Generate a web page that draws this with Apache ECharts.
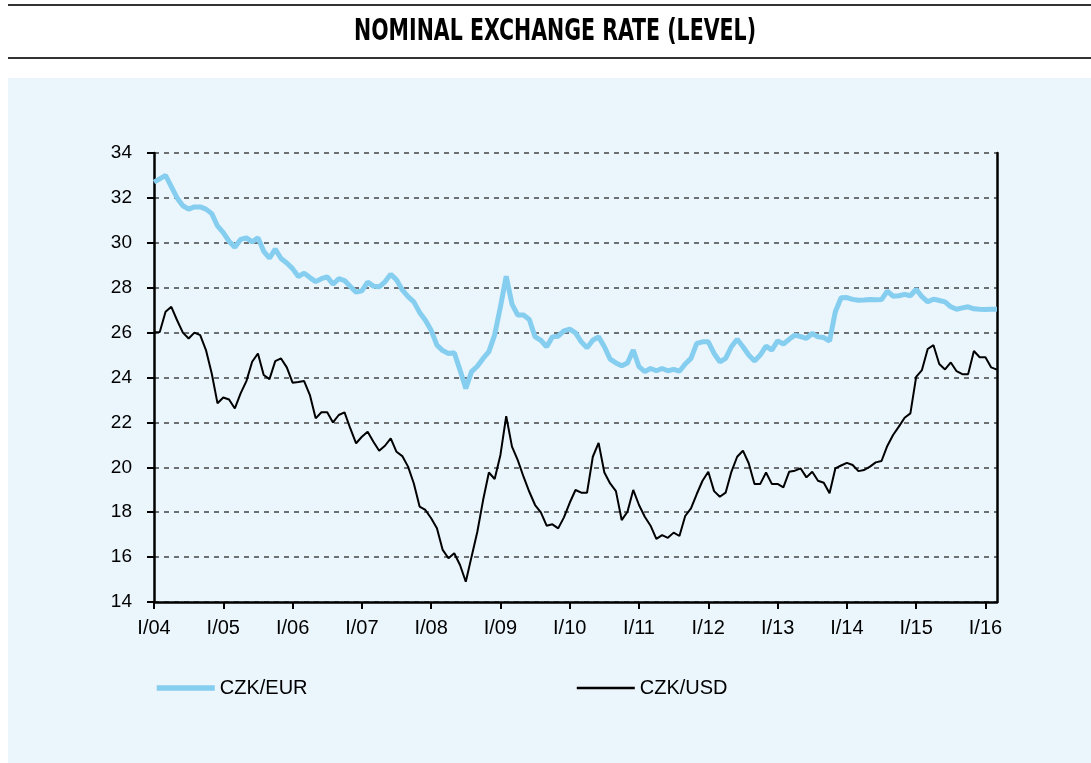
<!DOCTYPE html>
<html>
<head>
<meta charset="utf-8">
<script src="https://cdn.jsdelivr.net/npm/echarts@6/dist/echarts.min.js"></script>
<style>
  html, body { margin: 0; padding: 0; background: #fff; }
  #main { width: 1091px; height: 763px; }
</style>
</head>
<body>
<div id="main"></div>
<script>
// monthly values, I/04 .. III/16
var eurRate = [
  32.7, 32.85, 33.0, 32.5, 32.0, 31.65, 31.5, 31.6, 31.6, 31.5, 31.3, 30.75,
  30.45, 30.07, 29.8, 30.15, 30.22, 30.04, 30.23, 29.62, 29.32, 29.72, 29.3, 29.1,
  28.85, 28.5, 28.65, 28.45, 28.27, 28.4, 28.48, 28.16, 28.4, 28.32, 28.05, 27.8,
  27.86, 28.25, 28.07, 28.04, 28.26, 28.6, 28.35, 27.9, 27.6, 27.37, 26.9, 26.55,
  26.1, 25.44, 25.2, 25.07, 25.1, 24.33, 23.51, 24.26, 24.5, 24.85, 25.15, 25.9,
  27.15, 28.51, 27.27, 26.78, 26.78, 26.58, 25.81, 25.66, 25.37, 25.81, 25.84, 26.08,
  26.15, 25.99, 25.59, 25.32, 25.66, 25.81, 25.37, 24.82, 24.65, 24.52, 24.65, 25.22,
  24.48, 24.26, 24.4, 24.3, 24.4, 24.3, 24.36, 24.28, 24.6, 24.85, 25.52, 25.59,
  25.59, 25.07, 24.7, 24.85, 25.37, 25.7, 25.37, 25.0, 24.74, 25.0, 25.4, 25.22,
  25.63, 25.49, 25.7, 25.89, 25.82, 25.74, 25.96, 25.81, 25.78, 25.62, 26.93, 27.55,
  27.56, 27.48, 27.44, 27.45, 27.47, 27.46, 27.47, 27.85, 27.62, 27.64, 27.7, 27.64,
  27.93, 27.6, 27.37, 27.49, 27.43, 27.37, 27.15, 27.04, 27.1, 27.15, 27.06, 27.04,
  27.03, 27.04, 27.04
];
var usdRate = [
  26.0, 26.03, 26.93, 27.15, 26.55, 26.0, 25.74, 26.0, 25.89, 25.22, 24.18, 22.85,
  23.11, 23.02, 22.62, 23.29, 23.84, 24.7, 25.07, 24.11, 23.93, 24.73, 24.85, 24.45,
  23.77, 23.8, 23.84, 23.22, 22.18, 22.45, 22.45, 22.0, 22.33, 22.45, 21.73, 21.07,
  21.36, 21.58, 21.14, 20.74, 20.96, 21.29, 20.69, 20.5, 20.03, 19.28, 18.25, 18.1,
  17.73, 17.28, 16.32, 15.95, 16.17, 15.65, 14.9, 16.02, 17.13, 18.54, 19.77, 19.48,
  20.55, 22.28, 20.92, 20.32, 19.58, 18.91, 18.32, 17.99, 17.4, 17.46, 17.28, 17.77,
  18.42, 18.99, 18.87, 18.87, 20.47, 21.09, 19.77, 19.28, 18.94, 17.65, 18.02, 18.99,
  18.32, 17.8, 17.4, 16.81, 16.98, 16.86, 17.09, 16.94, 17.83, 18.17, 18.81, 19.4,
  19.8, 18.94, 18.69, 18.87, 19.8, 20.47, 20.74, 20.18, 19.26, 19.26, 19.77, 19.26,
  19.26, 19.11, 19.8, 19.85, 19.95, 19.55, 19.8, 19.4, 19.31, 18.84, 19.95, 20.08,
  20.2, 20.1, 19.83, 19.88, 20.03, 20.22, 20.28, 20.95, 21.44, 21.81, 22.21, 22.4,
  24.03, 24.33, 25.27, 25.44, 24.6, 24.36, 24.67, 24.28, 24.15, 24.15, 25.18, 24.9,
  24.9, 24.45, 24.35
];
var monthNames = ['I', 'II', 'III', 'IV', 'V', 'VI', 'VII', 'VIII', 'IX', 'X', 'XI', 'XII'];
var yearNames = ['04', '05', '06', '07', '08', '09', '10', '11', '12', '13', '14', '15', '16'];
var seriesNames = ['CZK/EUR', 'CZK/USD'];

var months = [];
yearNames.forEach(function (y) {
  monthNames.forEach(function (m) {
    if (months.length < eurRate.length) months.push(m + '/' + y);
  });
});

var chart = echarts.init(document.getElementById('main'));
var font = 'Liberation Sans, Arial, sans-serif';
var eurColor = '#86CEEF';

var option = {
  animation: false,
  graphic: [
    { type: 'line', z: -10, shape: { x1: 8, y1: 5, x2: 1091, y2: 5 }, style: { stroke: '#333', lineWidth: 2 } },
    { type: 'line', z: -10, shape: { x1: 8, y1: 58, x2: 1091, y2: 58 }, style: { stroke: '#333', lineWidth: 2 } },
    { type: 'rect', z: -10, shape: { x: 8, y: 78, width: 1083, height: 685 }, style: { fill: '#EAF5FC' } },
    {
      type: 'text', x: 555, y: 32, scaleX: 0.76,
      style: {
        text: 'NOMINAL EXCHANGE RATE (LEVEL)',
        font: 'bold 30px "DejaVu Sans Condensed", "DejaVu Sans", sans-serif',
        fill: '#000', align: 'center', verticalAlign: 'middle'
      }
    }
  ],
  grid: { left: 154, right: 94, top: 153, bottom: 161 },
  legend: {
    left: 149, top: 673, itemGap: 268, itemWidth: 58, itemHeight: 14,
    itemStyle: { opacity: 0 },
    textStyle: { fontFamily: font, fontSize: 20, color: '#000' },
    data: [
      { name: seriesNames[0], lineStyle: { color: eurColor, width: 5.5 } },
      { name: seriesNames[1], lineStyle: { color: '#000', width: 2.5 } }
    ]
  },
  xAxis: {
    type: 'category',
    data: months,
    boundaryGap: false,
    axisLine: { lineStyle: { color: '#000', width: 2.5 } },
    axisTick: {
      length: 7, lineStyle: { color: '#000', width: 2 },
      interval: function (i) { return i % 12 === 0; }
    },
    axisLabel: {
      margin: 16, fontFamily: font, fontSize: 20, color: '#000',
      interval: function (i) { return i % 12 === 0; }
    },
    splitLine: { show: false }
  },
  yAxis: [
    {
      type: 'value', min: 14, max: 34, interval: 2,
      axisLine: { show: true, lineStyle: { color: '#000', width: 2.5 } },
      axisTick: { show: true, length: 7, lineStyle: { color: '#000', width: 2 } },
      axisLabel: { margin: 22, fontFamily: font, fontSize: 19, color: '#000' },
      splitLine: { lineStyle: { color: '#444', width: 1.5, type: [5, 5] } }
    },
    {
      type: 'value', min: 14, max: 34, interval: 2, position: 'right',
      axisLine: { show: true, lineStyle: { color: '#000', width: 2.5 } },
      axisTick: { show: false }, axisLabel: { show: false }, splitLine: { show: false }
    }
  ],
  series: [
    {
      name: seriesNames[0], type: 'line', data: eurRate, symbol: 'none',
      lineStyle: { color: eurColor, width: 5 }, itemStyle: { color: eurColor }
    },
    {
      name: seriesNames[1], type: 'line', data: usdRate, symbol: 'none',
      lineStyle: { color: '#000', width: 2 }, itemStyle: { color: '#000' }
    }
  ]
};

chart.setOption(option);
</script>
</body>
</html>
